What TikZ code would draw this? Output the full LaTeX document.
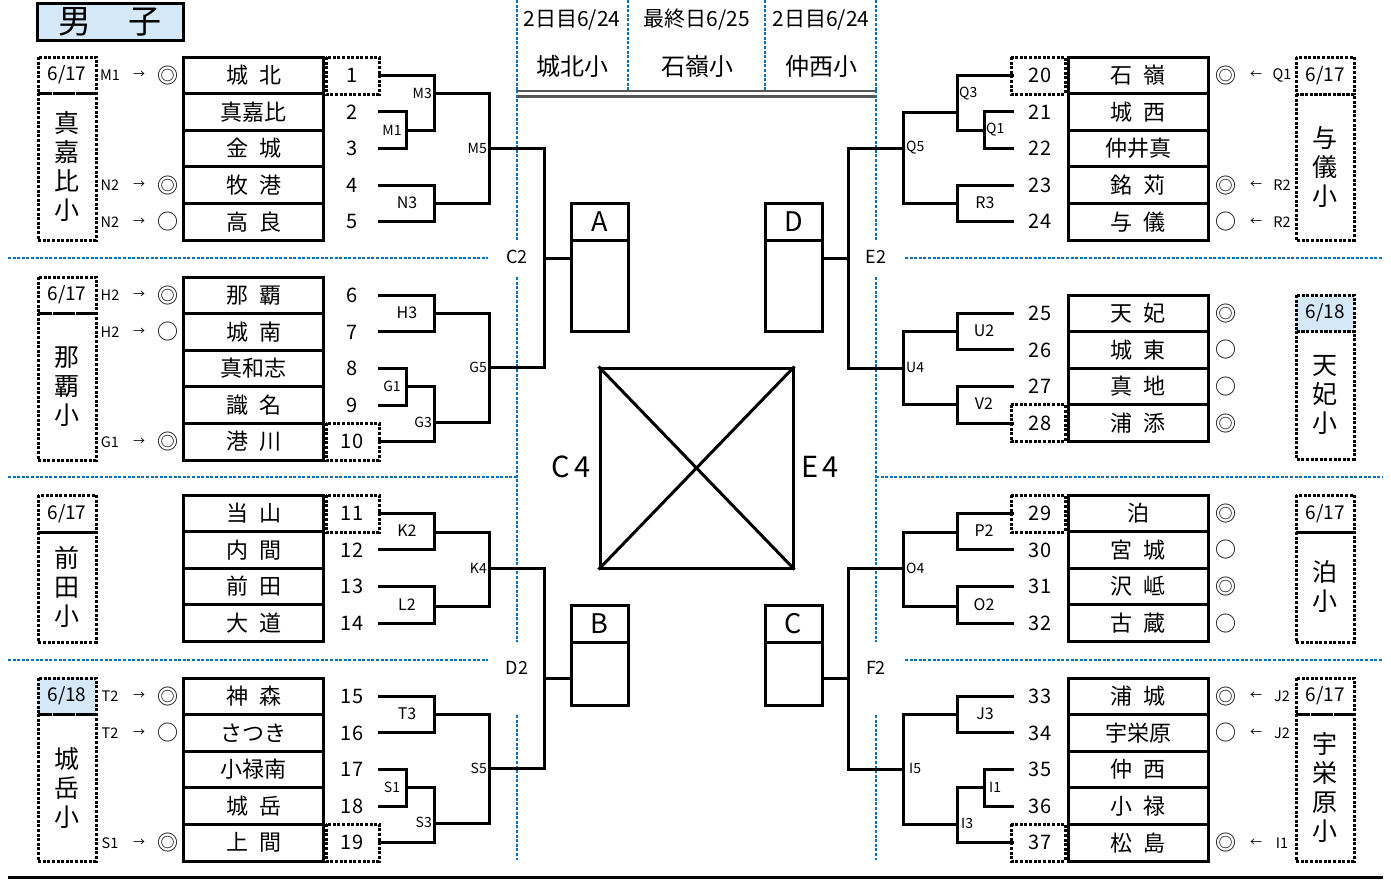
\documentclass[tikz,border=0pt]{standalone}
\usepackage{fontspec}
\setmainfont{Noto Sans CJK JP}
\definecolor{ltblue}{HTML}{D5E8F7}
\definecolor{dblue}{HTML}{0070C0}
\definecolor{dgray}{HTML}{555555}
\newcommand\gapjp{\hspace{0.5em}}
\tikzset{
  brk/.style={line width=3pt, line cap=rect},
  team/.style={draw, line width=3pt, minimum width=140pt, minimum height=36.6pt, inner sep=0pt, font=\fontsize{22}{22}\selectfont},
  num/.style={inner sep=0pt, font=\fontsize{20}{20}\selectfont},
  dotbox/.style={draw, line width=3pt, dash pattern=on 3pt off 1.6pt},
  blueline/.style={draw=dblue, line width=2.4pt, dash pattern=on 3pt off 1.6pt},
  lbl/.style={inner sep=0pt, font=\fontsize{16}{16}\selectfont},
  slbl/.style={inner sep=0pt, font=\fontsize{14}{14}\selectfont},
  code/.style={inner sep=0pt, font=\fontsize{14.5}{14.5}\selectfont},
  arr/.style={inner sep=0pt, font=\fontsize{12}{12}\selectfont},
  mk/.style={inner sep=0pt, font=\fontsize{21}{21}\selectfont},
  datef/.style={inner sep=0pt, font=\fontsize{19}{19}\selectfont},
  schoolf/.style={inner sep=0pt, align=center, font=\fontsize{25}{29}\selectfont},
  hdr/.style={inner sep=0pt, font=\fontsize{21}{21}\selectfont},
  hname/.style={inner sep=0pt, font=\fontsize{24}{24}\selectfont},
  clbl/.style={inner sep=0pt, font=\fontsize{18}{18}\selectfont},
  bigl/.style={inner sep=0pt, font=\fontsize{27}{27}\selectfont},
}
% #1 prefix, #2 top, #3 team x, #4 number x, #5 first number-1, #6 list
\newcommand\teamgroup[6]{%
  \foreach \t [count=\i] in {#6}{%
    \pgfmathsetmacro\yy{#2+36.6*(\i-0.5)}%
    \pgfmathtruncatemacro\nn{#5+\i}%
    \node[team] (#1t\i) at (#3,\yy) {\t};
    \node[num] (#1n\i) at (#4,\yy) {\nn};
  }%
}
\newcommand\lmark[3]{%
  \node[code] at (110,#1) {#2};
  \node[arr] at (139,#1) {→};
  \node[mk] at (168,#1) {#3};}
\newcommand\rmark[3]{%
  \node[mk] at (1226,#1) {#3};
  \node[arr] at (1256,#1) {←};
  \node[code] at (1282,#1) {#2};}
\newcommand\rmk[2]{\node[mk] at (1226,#1) {#2};}
% school box: #1 x-left, #2 top, #3 date bottom, #4 bottom, #5 date, #6 name, #7 fill
\newcommand\school[7]{%
  \path[dotbox, fill=#7] (#1,#2) rectangle (#1+58,#3);
  \node[datef] at (#1+29,{(#2+#3)/2}) {#5};
  \path[dotbox] (#1,#3) rectangle (#1+58,#4);
  \node[schoolf] at (#1+29,{(#3+#4)/2}) {#6};}
\begin{document}
\begin{tikzpicture}[x=1pt,y=-1pt]
\useasboundingbox (0,0) rectangle (1391,879);

% title
\node[draw, line width=3pt, fill=ltblue, minimum width=146pt, minimum height=37pt, inner sep=0pt,
      font=\fontsize{33}{33}\selectfont] (title) at (110,21.5) {男\hspace{1.15em}子};

% header
\foreach \xx in {517,628,765,876} \draw[blueline] (\xx,0) -- (\xx,90);
\node[hdr] (h1) at (572,20) {2日目6/24};
\node[hdr] (h2) at (697,20) {最終日6/25};
\node[hdr] (h3) at (821,20) {2日目6/24};
\node[hname] (s1) at (572,66) {城北小};
\node[hname] (s2) at (697,66) {石嶺小};
\node[hname] (s3) at (821,66) {仲西小};
\draw[dgray, line width=2.2pt] (517,91) -- (876,91);
\draw[dgray, line width=2.2pt] (517,96.5) -- (876,96.5);

% blue separators
\foreach \xx in {517,876}{
  \draw[blueline] (\xx,90) -- (\xx,240);
  \draw[blueline] (\xx,277) -- (\xx,642);
  \draw[blueline] (\xx,715) -- (\xx,860);
}
\draw[blueline] (8,258) -- (488,258);
\draw[blueline] (905,258) -- (1383,258);
\draw[blueline] (8,477) -- (517,477);
\draw[blueline] (876,477) -- (1383,477);
\draw[blueline] (8,660) -- (488,660);
\draw[blueline] (905,660) -- (1383,660);
\node[clbl,fill=white,inner sep=1pt] (C2) at (517,257) {C2};
\node[clbl,fill=white,inner sep=1pt] (D2) at (517,668) {D2};
\node[clbl,fill=white,inner sep=1pt] (E2) at (876,257) {E2};
\node[clbl,fill=white,inner sep=1pt] (F2) at (876,668) {F2};

% dotted number boxes
\path[dotbox] (326,57) rectangle (379,94);
\path[dotbox] (326,423) rectangle (379,460);
\path[dotbox] (326,495) rectangle (379,532);
\path[dotbox] (326,824) rectangle (379,861);
\path[dotbox] (1011,57) rectangle (1065,94);
\path[dotbox] (1011,404.5) rectangle (1065,441.5);
\path[dotbox] (1011,495) rectangle (1065,532);
\path[dotbox] (1011,824) rectangle (1065,861);

% teams
\teamgroup{La}{57}{253.5}{352}{0}{城\gapjp 北,真嘉比,金\gapjp 城,牧\gapjp 港,高\gapjp 良}
\teamgroup{Lb}{277}{253.5}{352}{5}{那\gapjp 覇,城\gapjp 南,真和志,識\gapjp 名,港\gapjp 川}
\teamgroup{Lc}{495}{253.5}{352}{10}{当\gapjp 山,内\gapjp 間,前\gapjp 田,大\gapjp 道}
\teamgroup{Ld}{678}{253.5}{352}{14}{神\gapjp 森,さつき,小禄南,城\gapjp 岳,上\gapjp 間}
\teamgroup{Ra}{57}{1138}{1040}{19}{石\gapjp 嶺,城\gapjp 西,仲井真,銘\gapjp 苅,与\gapjp 儀}
\teamgroup{Rb}{295}{1138}{1040}{24}{天\gapjp 妃,城\gapjp 東,真\gapjp 地,浦\gapjp 添}
\teamgroup{Rc}{495}{1138}{1040}{28}{泊,宮\gapjp 城,沢\gapjp 岻,古\gapjp 蔵}
\teamgroup{Rd}{678}{1138}{1040}{32}{浦\gapjp 城,宇栄原,仲\gapjp 西,小\gapjp 禄,松\gapjp 島}

% marks
\lmark{75.3}{M1}{◎}
\lmark{185.1}{N2}{◎}
\lmark{221.7}{N2}{○}
\lmark{295.3}{H2}{◎}
\lmark{331.9}{H2}{○}
\lmark{441.7}{G1}{◎}
\lmark{696.3}{T2}{◎}
\lmark{732.9}{T2}{○}
\lmark{842.7}{S1}{◎}
\rmark{75.3}{Q1}{◎}
\rmark{185.1}{R2}{◎}
\rmark{221.7}{R2}{○}
\rmk{313.3}{◎}\rmk{349.9}{○}\rmk{386.5}{○}\rmk{423.1}{◎}
\rmk{513.3}{◎}\rmk{549.9}{○}\rmk{586.5}{◎}\rmk{623.1}{○}
\rmark{696.3}{J2}{◎}
\rmark{732.9}{J2}{○}
\rmark{842.7}{I1}{◎}

% school boxes
\school{38}{57}{93}{240}{6/17}{真\\嘉\\比\\小}{white}
\school{38}{277}{313}{460}{6/17}{那\\覇\\小}{white}
\school{38}{495}{532}{642}{6/17}{前\\田\\小}{white}
\school{38}{678}{714}{861}{6/18}{城\\岳\\小}{ltblue}
\school{1296}{57}{94}{240}{6/17}{与\\儀\\小}{white}
\school{1296}{295}{331}{459}{6/18}{天\\妃\\小}{ltblue}
\school{1296}{495}{532}{642}{6/17}{泊\\小}{white}
\school{1296}{678}{714}{861}{6/17}{宇\\栄\\原\\小}{white}

% left brackets group a
\draw[brk] (379,111.9) -| (406,148.5) -- (379,148.5);
\draw[brk] (406,130) -- (434,130);
\draw[brk] (379,75.3) -| (434,130);
\draw[brk] (434,93) -- (489,93);
\draw[brk] (379,185.1) -| (434,221.7) -- (379,221.7);
\draw[brk] (434,203) -- (489,203);
\draw[brk] (489,93) -- (489,203);
\draw[brk] (489,148) -| (544,367) -- (489,367);
% group b
\draw[brk] (379,295.3) -| (434,331.9) -- (379,331.9);
\draw[brk] (434,313) -- (489,313);
\draw[brk] (379,368.5) -| (406,405.1) -- (379,405.1);
\draw[brk] (406,386) -- (434,386) -- (434,441.7) -- (379,441.7);
\draw[brk] (434,422) -- (489,422);
\draw[brk] (489,313) -- (489,422);
% group c
\draw[brk] (379,513.3) -| (434,549.9) -- (379,549.9);
\draw[brk] (434,532) -- (489,532);
\draw[brk] (379,586.5) -| (434,623.1) -- (379,623.1);
\draw[brk] (434,606) -- (489,606);
\draw[brk] (489,532) -- (489,606);
\draw[brk] (489,568) -| (544,768) -- (489,768);
% group d
\draw[brk] (379,696.3) -| (434,732.9) -- (379,732.9);
\draw[brk] (434,714) -- (489,714);
\draw[brk] (379,769.5) -| (406,806.1) -- (379,806.1);
\draw[brk] (406,787) -- (434,787) -- (434,842.7) -- (379,842.7);
\draw[brk] (434,823) -- (489,823);
\draw[brk] (489,714) -- (489,823);

% right brackets group a
\draw[brk] (1012,111.9) -| (984,148.5) -- (1012,148.5);
\draw[brk] (984,130) -- (957,130);
\draw[brk] (1012,75.3) -| (957,130);
\draw[brk] (957,112) -- (903,112);
\draw[brk] (1012,185.1) -| (957,221.7) -- (1012,221.7);
\draw[brk] (957,203) -- (903,203);
\draw[brk] (903,112) -- (903,203);
\draw[brk] (903,148) -| (848,368) -- (903,368);
% group b
\draw[brk] (1012,313.3) -| (957,349.9) -- (1012,349.9);
\draw[brk] (957,331) -- (903,331);
\draw[brk] (1012,386.5) -| (957,423.1) -- (1012,423.1);
\draw[brk] (957,404) -- (903,404);
\draw[brk] (903,331) -- (903,404);
% group c
\draw[brk] (1012,513.3) -| (957,549.9) -- (1012,549.9);
\draw[brk] (957,532) -- (903,532);
\draw[brk] (1012,586.5) -| (957,623.1) -- (1012,623.1);
\draw[brk] (957,606) -- (903,606);
\draw[brk] (903,532) -- (903,606);
\draw[brk] (903,568) -| (848,769) -- (903,769);
% group d
\draw[brk] (1012,696.3) -| (957,732.9) -- (1012,732.9);
\draw[brk] (957,714) -- (903,714);
\draw[brk] (1012,769.5) -| (984,806.1) -- (1012,806.1);
\draw[brk] (984,787) -- (957,787) -- (957,842.7) -- (1012,842.7);
\draw[brk] (957,824) -- (903,824);
\draw[brk] (903,714) -- (903,824);

% bracket labels left
\node[slbl] at (392,130) {M1};
\node[slbl, anchor=east] at (432,93) {M3};
\node[lbl] at (407,203) {N3};
\node[slbl, anchor=east] at (487,148) {M5};
\node[lbl] at (407,313) {H3};
\node[slbl] at (392,386) {G1};
\node[slbl, anchor=east] at (432,422) {G3};
\node[slbl, anchor=east] at (487,367) {G5};
\node[lbl] at (407,531) {K2};
\node[lbl] at (407,605) {L2};
\node[slbl, anchor=east] at (487,568) {K4};
\node[lbl] at (407,714) {T3};
\node[slbl] at (392,787) {S1};
\node[slbl, anchor=east] at (432,822) {S3};
\node[slbl, anchor=east] at (487,768) {S5};
% bracket labels right
\node[slbl, anchor=west] at (959,94) {Q3};
\node[slbl, anchor=west] at (986,130) {Q1};
\node[slbl, anchor=west] at (906,148) {Q5};
\node[lbl] at (985,203) {R3};
\node[lbl] at (984,331) {U2};
\node[lbl] at (984,404) {V2};
\node[slbl, anchor=west] at (906,367) {U4};
\node[lbl] at (984,531) {P2};
\node[lbl] at (984,605) {O2};
\node[slbl, anchor=west] at (906,568) {O4};
\node[lbl] at (985,714) {J3};
\node[slbl, anchor=west] at (989,787) {I1};
\node[slbl, anchor=west] at (961,823) {I3};
\node[slbl, anchor=west] at (909,768) {I5};

% center boxes
\draw[brk] (544,258) -- (571,258);
\draw[brk] (544,678) -- (571,678);
\draw[brk] (848,258) -- (822,258);
\draw[brk] (848,678) -- (822,678);
\draw[line width=3pt] (571,203) rectangle (628,331);
\draw[line width=3pt] (571,240) -- (628,240);
\node[bigl] (A) at (599.5,221.5) {A};
\draw[line width=3pt] (765,203) rectangle (822,331);
\draw[line width=3pt] (765,240) -- (822,240);
\node[bigl] (D) at (793.5,221.5) {D};
\draw[line width=3pt] (571,605) rectangle (628,705);
\draw[line width=3pt] (571,642) -- (628,642);
\node[bigl] (B) at (599.5,623.5) {B};
\draw[line width=3pt] (765,605) rectangle (822,705);
\draw[line width=3pt] (765,642) -- (822,642);
\node[bigl] (C) at (793.5,623.5) {C};

\node[draw, line width=3pt, minimum width=193pt, minimum height=200pt, inner sep=0pt] (sq) at (696.5,468) {};
\draw[line width=3pt] (sq.north west) -- (sq.south east);
\draw[line width=3pt] (sq.north east) -- (sq.south west);
\node[inner sep=0pt, font=\fontsize{29}{29}\selectfont] (C4) at (571,467) {C\,4};
\node[inner sep=0pt, font=\fontsize{29}{29}\selectfont] (E4) at (820,467) {E\,4};

% bottom rule
\draw[line width=3pt] (8,877) -- (1383,877);
\end{tikzpicture}
\end{document}
